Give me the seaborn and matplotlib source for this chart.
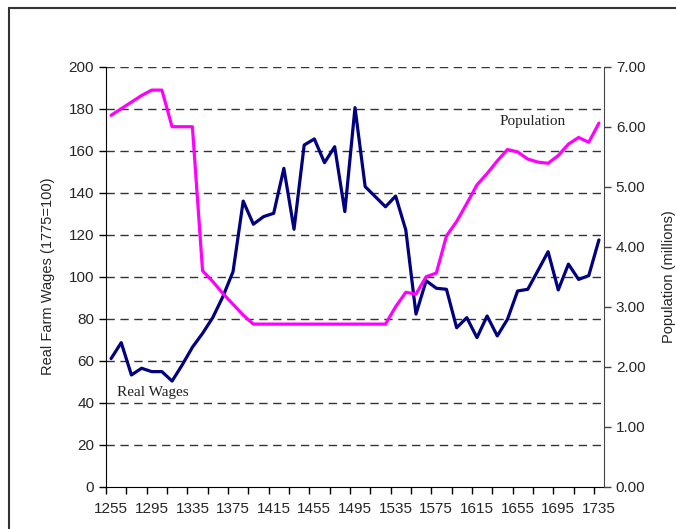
import numpy as np
import pandas as pd
import seaborn as sns
import matplotlib.pyplot as plt
from matplotlib.patches import Rectangle

years = list(range(1255, 1736, 10))

real_wages = [61, 68.6, 53.2, 56.4, 54.8, 54.8, 50.3, 58, 66.4, 73,
              80.5, 90.5, 102.4, 136, 125, 128.6, 130.2, 151.6, 122.6, 162.7,
              165.6, 154.3, 161.9, 131, 180.5, 142.9, 138.1, 133.3, 138.4, 122.2,
              82.2, 98.1, 94.5, 94, 75.7, 80.5, 71, 81.3, 71.8, 79.7,
              93.2, 94, 102.9, 111.9, 93.7, 106, 98.7, 100.5, 117.5]

population = [6.19, 6.30, 6.41, 6.52, 6.61, 6.61, 6.00, 6.00, 6.00, 3.60,
              3.42, 3.22, 3.04, 2.86, 2.71, 2.71, 2.71, 2.71, 2.71, 2.71,
              2.71, 2.71, 2.71, 2.71, 2.71, 2.71, 2.71, 2.71, 3.00, 3.24,
              3.21, 3.50, 3.56, 4.18, 4.42, 4.72, 5.03, 5.22, 5.43, 5.62,
              5.58, 5.46, 5.41, 5.39, 5.52, 5.71, 5.82, 5.74, 6.06]

df = pd.DataFrame({"year": years, "wages": real_wages, "pop": population})

sns.set_style("white")
plt.rcParams["font.family"] = ["Liberation Sans", "DejaVu Sans"]

fig = plt.figure(figsize=(6.76, 5.29), dpi=100)
ax = fig.add_axes([106 / 676, 1 - 486.7 / 529, 498 / 676, 420 / 529])
ax2 = ax.twinx()

# dashed horizontal grid on the wage axis
for v in range(20, 201, 20):
    ax.axhline(v, color="#333333", lw=1, ls=(0, (6, 4)), zorder=0)

sns.lineplot(data=df, x="year", y="wages", ax=ax, color="#000080", lw=2.3)
sns.lineplot(data=df, x="year", y="pop", ax=ax2, color="#FF00FF", lw=2.3)

ax.set_xlim(1250, 1740)
ax.set_ylim(0, 200)
ax2.set_ylim(0, 7)

ax.set_xticks(range(1255, 1736, 40))
ax.set_xticks(range(1250, 1741, 20), minor=True)
ax.tick_params(axis="x", which="major", length=0, pad=11, labelsize=11)
ax.tick_params(axis="x", which="minor", length=5, width=1, direction="out",
               bottom=True, color="black")
ax.set_yticks(range(0, 201, 20))
ax.tick_params(axis="y", length=5, width=1, direction="out", left=True,
               labelsize=11, color="black")
ax2.set_yticks(range(0, 8))
ax2.set_yticklabels([f"{v:.2f}" for v in range(0, 8)])
ax2.tick_params(axis="y", length=5, width=1, direction="out", right=True,
                labelsize=11, color="#444444")

ax.set_xlabel("")
ax.set_ylabel("Real Farm Wages (1775=100)", fontsize=10.5, labelpad=10)
ax2.set_ylabel("Population (millions)", fontsize=10.5, labelpad=12)

for a in (ax, ax2):
    a.spines["top"].set_visible(False)
ax.spines["right"].set_visible(False)
ax.spines["left"].set_color("black")
ax.spines["bottom"].set_color("black")
ax2.spines["left"].set_visible(False)
ax2.spines["bottom"].set_visible(False)
ax2.spines["right"].set_color("#444444")

ax.text(1260.5, 45, "Real Wages", fontsize=11, va="center", ha="left",
        family=["Liberation Serif", "DejaVu Serif"], color="#222222")
ax.text(1637, 174, "Population", fontsize=11, va="center", ha="left",
        family=["Liberation Serif", "DejaVu Serif"], color="#222222")

# outer chart frame
fig.patches.append(Rectangle((9 / 676, -0.2), 1.2, 1.2 - 8 / 529,
                             transform=fig.transFigure, fill=False,
                             edgecolor="#333333", lw=1.5))

fig.savefig("out.png", dpi=100)
